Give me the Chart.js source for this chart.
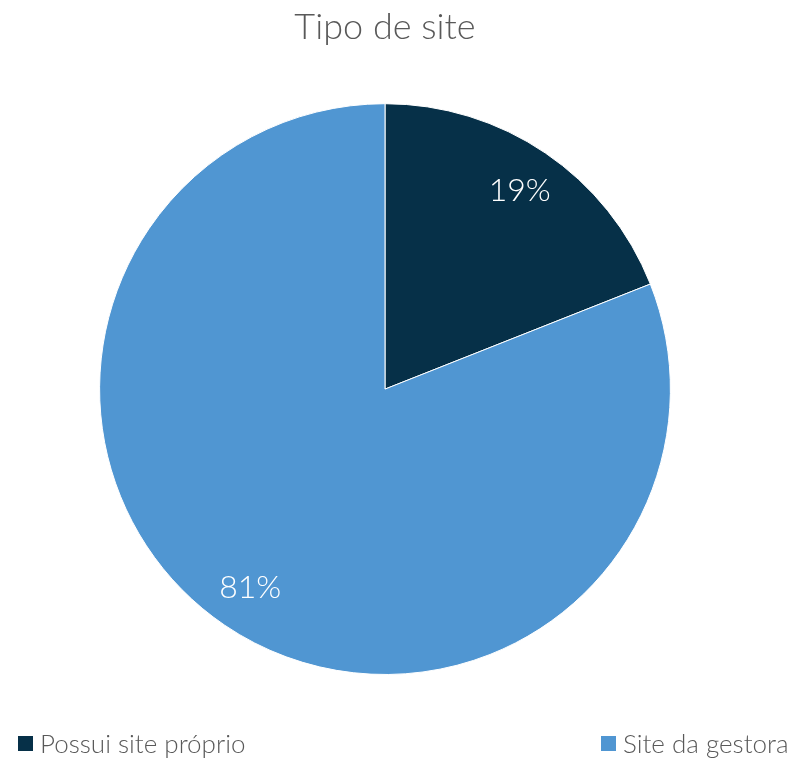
<!DOCTYPE html>
<html>
<head>
<meta charset="utf-8">
<script src="https://cdn.jsdelivr.net/npm/chart.js@4"></script>
<style>
  html, body { margin: 0; padding: 0; background: #fff; }
  #wrap { position: relative; width: 794px; height: 758px; }
  .legend-item {
    position: absolute; top: 727px; display: flex; align-items: center;
    font-family: Lato, sans-serif; font-weight: 300; font-size: 26px; color: #595959;
  }
  .legend-dot { width: 15px; height: 15px; margin-right: 7px; }
</style>
</head>
<body>
<div id="wrap">
  <canvas id="pieChart" width="794" height="758"></canvas>
  <div id="chartLegend"></div>
</div>
<script>
const categories = ["Possui site próprio", "Site da gestora"];
const values = [19, 81];
const colors = ["#063048", "#5096D2"];

// white percentage labels inside the slices
const sliceLabels = {
  id: "sliceLabels",
  afterDatasetsDraw(chart) {
    const { ctx } = chart;
    const meta = chart.getDatasetMeta(0);
    const total = values.reduce((a, b) => a + b, 0);
    ctx.save();
    ctx.fillStyle = "#fff";
    ctx.font = "300 32px Lato";
    ctx.textAlign = "center";
    ctx.textBaseline = "middle";
    meta.data.forEach((arc, i) => {
      const p = arc.getProps(["x", "y", "startAngle", "endAngle", "outerRadius"]);
      const mid = (p.startAngle + p.endAngle) / 2;
      const r = p.outerRadius * 0.84;
      const pct = Math.round((values[i] / total) * 100) + "%";
      ctx.fillText(pct, p.x + Math.cos(mid) * r, p.y + Math.sin(mid) * r);
    });
    ctx.restore();
  },
};

new Chart(document.getElementById("pieChart"), {
  type: "pie",
  data: {
    labels: categories,
    datasets: [{
      data: values,
      backgroundColor: colors,
      borderColor: "#fff",
      borderWidth: 1,
    }],
  },
  options: {
    responsive: false,
    animation: false,
    layout: { padding: { top: 0, bottom: 83, left: 0, right: 24 } },
    plugins: {
      legend: { display: false },
      tooltip: { enabled: false },
      title: {
        display: true,
        text: "Tipo de site",
        color: "#595959",
        font: { family: "Lato", size: 36, weight: 300, lineHeight: 1.2 },
        padding: { top: 6, bottom: 54 },
      },
    },
  },
  plugins: [sliceLabels],
});

// legend spread across the bottom
const chartLegend = document.getElementById("chartLegend");
const legendLeft = [18, 601];
categories.forEach((label, index) => {
  const item = document.createElement("div");
  item.className = "legend-item";
  item.style.left = legendLeft[index] + "px";
  const dot = document.createElement("div");
  dot.className = "legend-dot";
  dot.style.background = colors[index];
  const name = document.createElement("span");
  name.textContent = label;
  item.appendChild(dot);
  item.appendChild(name);
  chartLegend.appendChild(item);
});
</script>
</body>
</html>
